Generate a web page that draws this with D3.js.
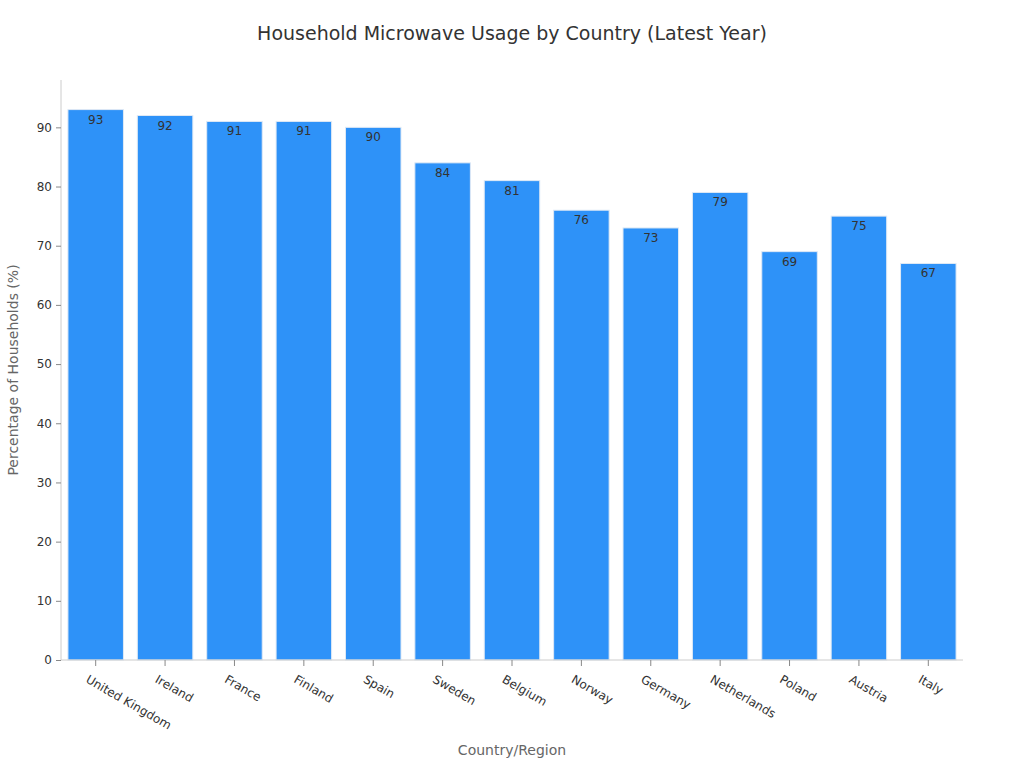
<!DOCTYPE html>
<html><head><meta charset="utf-8">
<script src="https://cdn.jsdelivr.net/npm/d3@7"></script>
<style>body{margin:0;background:#fff;font-family:"DejaVu Sans",sans-serif}</style>
</head><body><svg id="c" width="1024" height="768"></svg>
<script>
const categories=["United Kingdom","Ireland","France","Finland","Spain","Sweden","Belgium","Norway","Germany","Netherlands","Poland","Austria","Italy"];
const values=[93,92,91,91,90,84,81,76,73,79,69,75,67];
const yTicks=[0,10,20,30,40,50,60,70,80,90];

const svg=d3.select("#c");
const L=61,R=963,T=80,B=660;
const x=d3.scaleBand().domain(categories).range([L,R]).paddingInner(0.2).paddingOuter(0.1);
const y=d3.scaleLinear().domain([0,98]).range([B,T]);

svg.append("text").attr("x",512).attr("y",40).attr("text-anchor","middle")
 .attr("font-size",19).attr("fill","#333").text("Household Microwave Usage by Country (Latest Year)");

svg.selectAll("rect.bar").data(values).enter().append("rect")
 .attr("x",(d,i)=>x(categories[i])).attr("y",d=>y(d))
 .attr("width",x.bandwidth()).attr("height",d=>B-y(d))
 .attr("fill","#2e92f8").attr("stroke","#dfe9f5").attr("stroke-width",1);

svg.selectAll("text.val").data(values).enter().append("text")
 .attr("x",(d,i)=>x(categories[i])+x.bandwidth()/2).attr("y",d=>y(d)+14)
 .attr("text-anchor","middle").attr("font-size",12).attr("fill","#333").text(d=>d);

const ya=svg.append("g").attr("transform",`translate(${L},0)`)
 .call(d3.axisLeft(y).tickValues(yTicks).tickSize(5).tickPadding(4));
ya.select(".domain").attr("stroke","#ccc").attr("d",`M0,${T}V${B}`);
ya.selectAll(".tick line").attr("stroke","#888");
ya.selectAll("text").attr("font-size",12).attr("fill","#333").attr("font-family","DejaVu Sans");

const xa=svg.append("g").attr("transform",`translate(0,${B})`)
 .call(d3.axisBottom(x).tickSize(6).tickPadding(4));
xa.select(".domain").attr("stroke","#ccc").attr("d",`M${L},0H${R}`);
xa.selectAll(".tick line").attr("stroke","#888");
xa.selectAll("text").attr("font-size",12).attr("fill","#333").attr("font-family","DejaVu Sans")
 .attr("text-anchor","start").attr("dy","0.3em").attr("transform","translate(-4,10) rotate(30)");

svg.append("text").attr("x",512).attr("y",755).attr("text-anchor","middle")
 .attr("font-size",14).attr("fill","#666").text("Country/Region");
svg.append("text").attr("transform","translate(18,370) rotate(-90)").attr("text-anchor","middle")
 .attr("font-size",14).attr("fill","#666").text("Percentage of Households (%)");
</script></body></html>
